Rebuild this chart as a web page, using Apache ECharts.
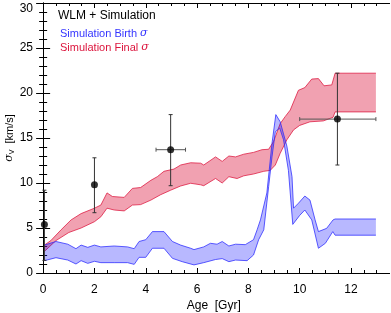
<!DOCTYPE html>
<html><head><meta charset="utf-8">
<script src="https://cdn.jsdelivr.net/npm/echarts@6/dist/echarts.min.js"></script>
<style>html,body{margin:0;padding:0;background:#fff}#c{width:391px;height:313px}</style>
</head><body><div id="c"></div>
<script>
// ---- data ----
const xMajorTicks = [0, 2, 4, 6, 8, 10, 12];
const xMinorTicks = [0.5, 1, 1.5, 2.5, 3, 3.5, 4.5, 5, 5.5, 6.5, 7, 7.5, 8.5, 9, 9.5, 10.5, 11, 11.5, 12.5, 13];

const redUpAge = [0.05, 0.3, 0.7, 1.09, 1.48, 2.0, 2.25, 2.49, 2.7, 3.16, 3.48, 3.8, 4.2, 4.45, 4.71, 5.1, 5.36, 5.75, 6.14, 6.26, 6.72, 6.98, 7.24, 7.5, 7.82, 8.2, 8.53, 8.79, 8.98, 9.24, 9.44, 9.63, 9.95, 10.2, 10.47, 10.73, 10.95, 11.25, 11.38, 12.97];
const redUp    = [3.1, 3.6, 4.8, 5.9, 6.6, 7.2, 7.55, 8.9, 8.5, 8.4, 9.4, 9.5, 10.3, 10.7, 11.3, 11.55, 12.0, 12.25, 12.2, 12.0, 12.9, 12.4, 13.0, 12.9, 13.2, 13.4, 13.7, 13.75, 14.6, 16.6, 17.4, 18.1, 20.3, 20.6, 21.55, 21.6, 20.8, 20.9, 22.2, 22.2];
const redLoAge = [0.05, 0.5, 1.0, 1.48, 2.0, 2.25, 2.49, 2.77, 3.16, 3.48, 3.8, 4.2, 4.58, 4.97, 5.36, 5.75, 6.14, 6.26, 6.72, 6.98, 7.24, 7.56, 7.82, 8.2, 8.6, 8.85, 9.05, 9.24, 9.5, 9.76, 10.0, 10.4, 10.92, 11.3, 11.38, 12.97];
const redLo    = [2.4, 3.6, 4.5, 5.0, 5.7, 6.25, 7.2, 7.0, 6.9, 7.55, 7.6, 8.1, 8.7, 9.2, 9.67, 9.97, 9.8, 9.7, 10.5, 10.0, 10.7, 10.5, 10.8, 11.0, 11.3, 11.4, 12.0, 13.3, 14.8, 15.9, 16.4, 16.8, 16.9, 17.3, 17.9, 17.9];

const blueUpAge = [0.05, 0.5, 0.96, 1.28, 1.48, 1.74, 2.0, 2.25, 2.77, 3.29, 3.55, 3.74, 4.0, 4.26, 4.71, 5.04, 5.36, 5.75, 5.88, 6.26, 6.52, 6.78, 6.98, 7.24, 7.5, 7.88, 8.2, 8.34, 8.47, 8.72, 8.92, 9.07, 9.24, 9.5, 9.7, 9.76, 9.95, 10.2, 10.4, 10.6, 10.73, 11.05, 11.3, 11.38, 12.97];
const blueUp    = [3.1, 3.5, 3.2, 2.7, 3.1, 2.85, 3.1, 2.9, 3.0, 2.9, 2.7, 3.5, 3.7, 4.6, 4.6, 3.5, 3.1, 2.75, 2.6, 2.9, 3.3, 3.2, 3.5, 3.0, 3.2, 3.15, 3.7, 4.8, 5.9, 8.9, 14.4, 17.6, 16.8, 14.1, 10.7, 7.2, 7.75, 8.55, 8.1, 5.9, 4.6, 4.96, 5.9, 6.0, 6.0];
const blueLoAge = [0.05, 0.5, 0.96, 1.28, 1.48, 1.74, 2.0, 2.25, 2.77, 3.29, 3.55, 3.74, 4.0, 4.26, 4.71, 5.04, 5.42, 5.88, 6.26, 6.72, 6.98, 7.24, 7.5, 7.95, 8.2, 8.4, 8.6, 8.79, 8.92, 9.05, 9.22, 9.37, 9.56, 9.73, 10.0, 10.2, 10.47, 10.73, 11.0, 11.29, 11.38, 12.97];
const blueLo    = [1.37, 1.7, 1.44, 1.0, 1.37, 1.07, 1.3, 1.15, 1.15, 1.15, 0.96, 1.74, 1.74, 2.75, 2.75, 1.63, 1.26, 0.9, 1.15, 1.5, 1.6, 1.26, 1.44, 1.37, 2.0, 3.7, 4.8, 9.6, 12.9, 15.7, 16.1, 14.8, 11.4, 5.4, 6.4, 7.0, 5.9, 2.75, 3.3, 4.6, 4.2, 4.2];

const obsAge   = [0.05, 2.0, 4.97, 11.47];
const obsSigma = [5.4, 9.8, 13.7, 17.1];
const obsSigLo = [1.4, 6.7, 9.7, 12.0];
const obsSigHi = [9.2, 12.8, 17.6, 22.2];
const obsAgeLo = [0.05, 2.0, 4.4, 10.0];
const obsAgeHi = [0.05, 2.0, 5.55, 12.97];

// ---- chart ----
const chart = echarts.init(document.getElementById('c'), null, {renderer: 'canvas'});
const FONT = 'Liberation Sans';
const axisCommon = {
  type: 'value', min: -0.2, max: 13.5,
  axisLine: {show: true, onZero: false, lineStyle: {color: '#000', width: 1}},
  splitLine: {show: false}
};

function band(ua, uv, la, lv, fill, stroke) {
  return function (params, api) {
    const up = ua.map((a, i) => api.coord([a, uv[i]]));
    const lo = la.map((a, i) => api.coord([a, lv[i]]));
    const poly = up.concat(lo.slice().reverse());
    return {type: 'group', children: [
      {type: 'polygon', shape: {points: poly}, style: {fill: fill, stroke: null}},
      {type: 'polyline', shape: {points: up}, style: {stroke: stroke, lineWidth: 1, fill: null}},
      {type: 'polyline', shape: {points: lo}, style: {stroke: stroke, lineWidth: 1, fill: null}}
    ]};
  };
}

function errRender(params, api) {
  const i = params.dataIndex;
  const c = '#333';
  const top = api.coord([obsAge[i], obsSigHi[i]]);
  const bot = api.coord([obsAge[i], obsSigLo[i]]);
  const l = api.coord([obsAgeLo[i], obsSigma[i]]);
  const r = api.coord([obsAgeHi[i], obsSigma[i]]);
  const ch = [
    {type: 'line', shape: {x1: top[0], y1: top[1], x2: bot[0], y2: bot[1]}, style: {stroke: c, lineWidth: 1}},
    {type: 'line', shape: {x1: top[0] - 2, y1: top[1], x2: top[0] + 2, y2: top[1]}, style: {stroke: c, lineWidth: 1}},
    {type: 'line', shape: {x1: bot[0] - 2, y1: bot[1], x2: bot[0] + 2, y2: bot[1]}, style: {stroke: c, lineWidth: 1}}
  ];
  if (obsAgeHi[i] > obsAgeLo[i]) {
    ch.push({type: 'line', shape: {x1: l[0], y1: l[1], x2: r[0], y2: r[1]}, style: {stroke: '#555', lineWidth: 1}});
    ch.push({type: 'line', shape: {x1: l[0], y1: l[1] - 2, x2: l[0], y2: l[1] + 2}, style: {stroke: '#555', lineWidth: 1}});
    ch.push({type: 'line', shape: {x1: r[0], y1: r[1] - 2, x2: r[0], y2: r[1] + 2}, style: {stroke: '#555', lineWidth: 1}});
  }
  return {type: 'group', children: ch};
}

chart.setOption({
  animation: false,
  backgroundColor: '#fff',
  textStyle: {fontFamily: FONT},
  grid: {left: 38, right: 1.5, top: 3, bottom: 40, containLabel: false, outerBoundsMode: 'none'},
  xAxis: [
    Object.assign({}, axisCommon, {
      position: 'bottom', name: 'Age  [Gyr]', nameLocation: 'middle', nameGap: 27, nameMoveOverlap: false,
      nameTextStyle: {fontSize: 12, color: '#000', fontFamily: FONT},
      axisTick: {show: true, inside: true, length: 5, customValues: xMajorTicks, lineStyle: {color: '#000'}},
      axisLabel: {show: true, customValues: xMajorTicks, margin: 11, fontSize: 12, color: '#000', fontFamily: FONT}
    }),
    Object.assign({}, axisCommon, {
      position: 'bottom',
      axisTick: {show: true, inside: true, length: 3, customValues: xMinorTicks, lineStyle: {color: '#000'}},
      axisLabel: {show: false}
    }),
    Object.assign({}, axisCommon, {
      position: 'top',
      axisTick: {show: true, inside: true, length: 5, customValues: xMajorTicks, lineStyle: {color: '#000'}},
      axisLabel: {show: false}
    }),
    Object.assign({}, axisCommon, {
      position: 'top',
      axisTick: {show: true, inside: true, length: 3, customValues: xMinorTicks, lineStyle: {color: '#000'}},
      axisLabel: {show: false}
    })
  ],
  yAxis: [
    {
      type: 'value', min: 0, max: 30, interval: 5, position: 'left',
      name: '{s|σ}{sub|V}  [km/s]', nameLocation: 'middle', nameGap: 22, nameMoveOverlap: false,
      nameTextStyle: {fontSize: 11, color: '#000', fontFamily: FONT,
        rich: {s: {fontSize: 11, fontStyle: 'italic', fontFamily: 'DejaVu Serif', color: '#000'},
               sub: {fontSize: 7, color: '#000', verticalAlign: 'bottom', padding: [6, 0, 0, 0]}}},
      axisLine: {show: true, lineStyle: {color: '#000', width: 1}},
      axisTick: {show: true, inside: true, length: 7, lineStyle: {color: '#000'}},
      minorTick: {show: true, splitNumber: 5, length: 4, lineStyle: {color: '#000'}},
      splitLine: {show: false}, minorSplitLine: {show: false},
      axisLabel: {margin: 5, fontSize: 12, color: '#000', fontFamily: FONT,
        formatter: function (v) { return v === 30 ? '{t|30}' : String(v); },
        rich: {t: {fontSize: 12, color: '#000', fontFamily: FONT, padding: [11, 0, 0, 0]}}}
    },
    {
      type: 'value', min: 0, max: 30, interval: 5, position: 'right',
      axisLine: {show: true, lineStyle: {color: '#000', width: 1}},
      axisTick: {show: true, inside: true, length: 7, lineStyle: {color: '#000'}},
      minorTick: {show: true, splitNumber: 5, length: 4, lineStyle: {color: '#000'}},
      splitLine: {show: false}, minorSplitLine: {show: false},
      axisLabel: {show: false}
    }
  ],
  graphic: [
    {type: 'text', left: 58, top: 10, style: {text: 'WLM + Simulation', font: '12px "Liberation Sans"', fill: '#000'}},
    {type: 'text', left: 60, top: 28, style: {text: 'Simulation Birth {s|σ}', font: '11px "Liberation Sans"', fill: '#3535ff',
      rich: {s: {fontFamily: 'DejaVu Serif', fontStyle: 'italic', fontSize: 11, fill: '#3535ff'}}}},
    {type: 'text', left: 60, top: 42, style: {text: 'Simulation Final {s|σ}', font: '11px "Liberation Sans"', fill: '#dc143c',
      rich: {s: {fontFamily: 'DejaVu Serif', fontStyle: 'italic', fontSize: 11, fill: '#dc143c'}}}}
  ],
  series: [
    {type: 'custom', coordinateSystem: 'cartesian2d', xAxisIndex: 0, yAxisIndex: 0, data: [[0, 0]], silent: true,
      renderItem: band(redUpAge, redUp, redLoAge, redLo, 'rgba(220,20,60,0.4)', 'rgba(220,20,60,0.75)'), z: 2},
    {type: 'custom', coordinateSystem: 'cartesian2d', xAxisIndex: 0, yAxisIndex: 0, data: [[0, 0]], silent: true,
      renderItem: band(blueUpAge, blueUp, blueLoAge, blueLo, 'rgba(0,0,255,0.28)', 'rgba(40,40,255,0.75)'), z: 3},
    {type: 'custom', coordinateSystem: 'cartesian2d', xAxisIndex: 0, yAxisIndex: 0,
      data: obsAge.map((a, i) => [a, obsSigma[i]]), renderItem: errRender, z: 4, silent: true},
    {type: 'scatter', xAxisIndex: 0, yAxisIndex: 0, data: obsAge.map((a, i) => [a, obsSigma[i]]),
      symbol: 'circle', symbolSize: 7, itemStyle: {color: '#000'}, z: 5, silent: true}
  ]
});
</script></body></html>
